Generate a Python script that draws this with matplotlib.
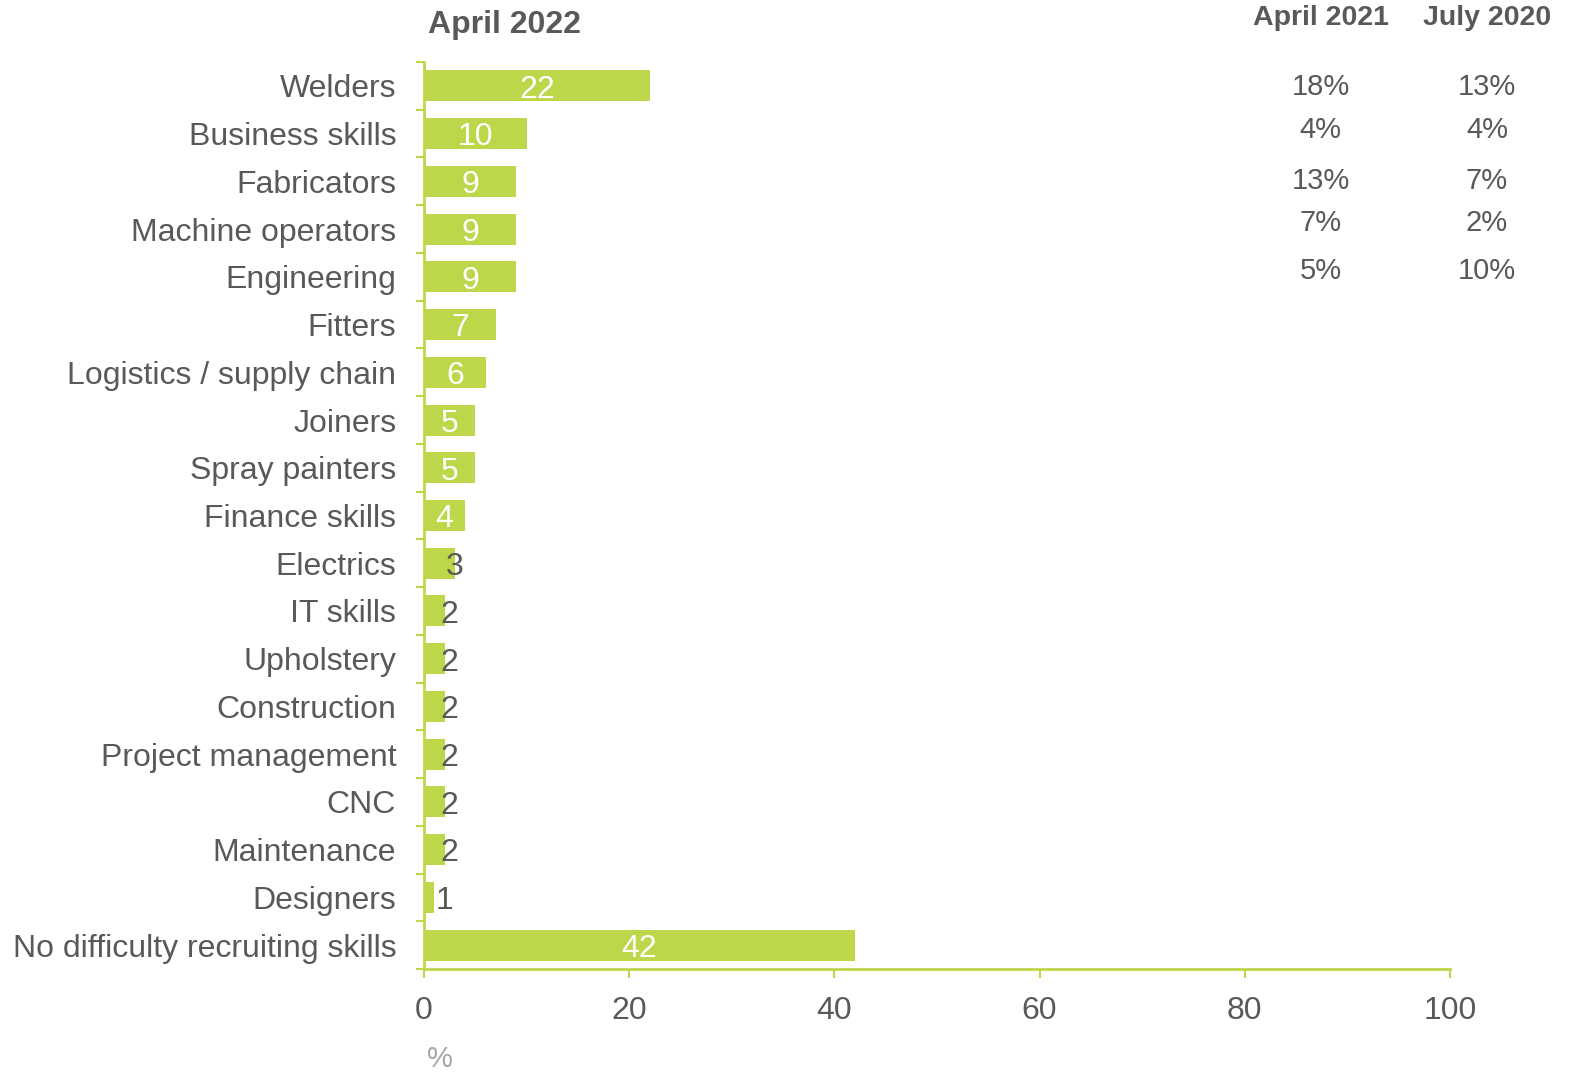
import numpy as np
import matplotlib
matplotlib.use("Agg")
import matplotlib.pyplot as plt

plt.rcParams['font.family'] = ['Liberation Sans', 'DejaVu Sans']

categories = ["Welders", "Business skills", "Fabricators", "Machine operators",
              "Engineering", "Fitters", "Logistics / supply chain", "Joiners",
              "Spray painters", "Finance skills", "Electrics", "IT skills",
              "Upholstery", "Construction", "Project management", "CNC",
              "Maintenance", "Designers", "No difficulty recruiting skills"]
values_2022 = [22, 10, 9, 9, 9, 7, 6, 5, 5, 4, 3, 2, 2, 2, 2, 2, 2, 1, 42]
values_2021 = ["18%", "4%", "13%", "7%", "5%"]
values_2020 = ["13%", "4%", "7%", "2%", "10%"]

green = "#BDD74B"
grey = "#595959"

fig = plt.figure(figsize=(15.7, 10.73), dpi=100)
ax = fig.add_axes([424/1570, 1 - 969/1073, 1026/1570, (969 - 62)/1073])

y = np.arange(len(categories))
ax.barh(y, values_2022, height=0.65, color=green, zorder=2)

for i, v in enumerate(values_2022):
    if v >= 4:
        ax.text(v / 2, i + 0.08, str(v), ha="center", va="center",
                color="white", fontsize=23)
    else:
        ax.text(v / 2 + 1.5, i + 0.08, str(v), ha="center", va="center",
                color=grey, fontsize=23)

ax.set_ylim(len(categories) - 0.5, -0.5)
ax.set_xlim(0, 100)
ax.set_xticks([0, 20, 40, 60, 80, 100])
ax.set_yticks(y)
ax.set_yticklabels(categories)
ax.set_yticks(np.arange(len(categories) + 1) - 0.5, minor=True)

ax.tick_params(axis="y", which="major", length=0, pad=20, labelsize=23, labelcolor=grey)
ax.tick_params(axis="y", which="minor", length=6, width=1.5, color=green)
ax.tick_params(axis="x", length=6.5, width=1.5, color=green, pad=13,
               labelsize=23, labelcolor=grey)

for s in ["top", "right"]:
    ax.spines[s].set_visible(False)
for s in ["left", "bottom"]:
    ax.spines[s].set_color(green)
    ax.spines[s].set_linewidth(2)

# headers
ax.text(0.4, -1.28, "April 2022", ha="left", va="center", fontsize=23,
        fontweight="bold", color=grey, clip_on=False)
ax.text(87.4, -1.42, "April 2021", ha="center", va="center", fontsize=20.5,
        fontweight="bold", color=grey, clip_on=False)
ax.text(103.6, -1.42, "July 2020", ha="center", va="center", fontsize=20.5,
        fontweight="bold", color=grey, clip_on=False)

offsets = [0.03, -0.08, -0.01, -0.12, -0.12]
for i, (a, b) in enumerate(zip(values_2021, values_2020)):
    ax.text(87.4, i + offsets[i], a, ha="center", va="center", fontsize=21,
            color=grey, clip_on=False)
    ax.text(103.6, i + offsets[i], b, ha="center", va="center", fontsize=21,
            color=grey, clip_on=False)

fig.text(440/1570, 1 - 1059/1073, "%", ha="center", va="center",
         fontsize=21, color="#A6A6A6")

fig.savefig("out.png", dpi=100)
